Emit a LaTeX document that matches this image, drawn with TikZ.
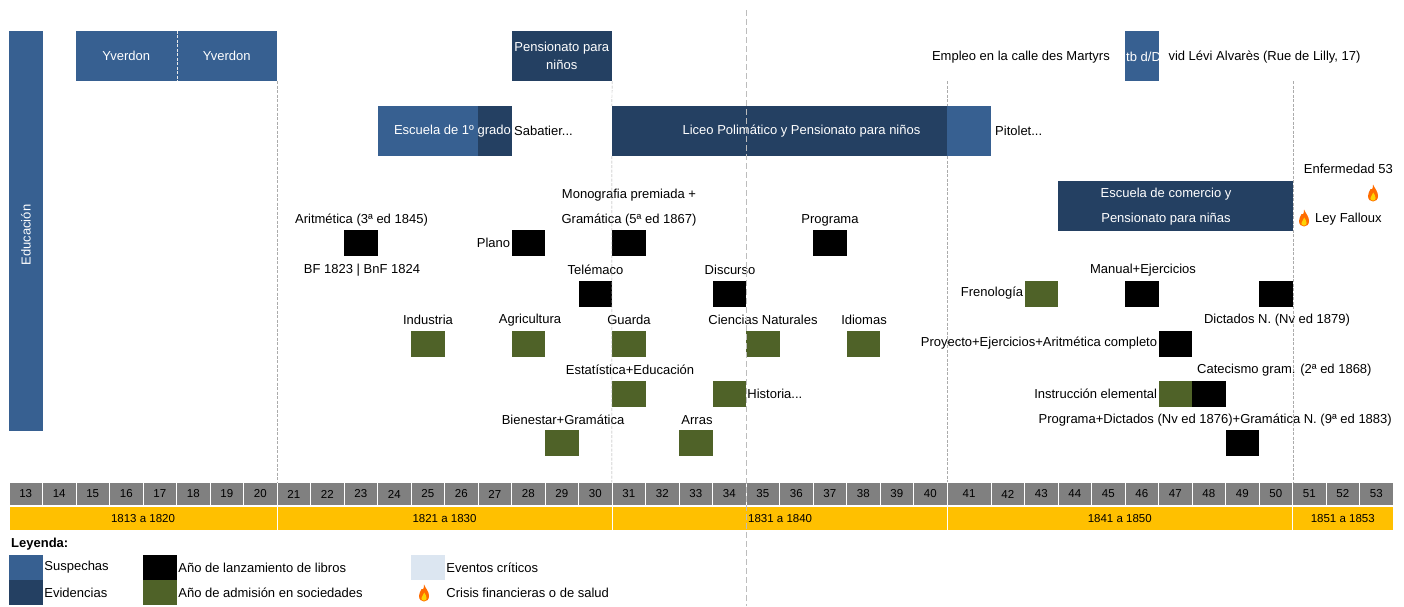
\documentclass[tikz,border=0pt]{standalone}
\usepackage{fontspec}
\setmainfont{Liberation Sans}
\definecolor{colSus}{HTML}{376091}
\definecolor{colEvi}{HTML}{244062}
\definecolor{colSoc}{HTML}{4F6228}
\definecolor{colAnio}{HTML}{808080}
\definecolor{colDec}{HTML}{FFC000}
\definecolor{colCri}{HTML}{DCE6F1}
\definecolor{colGuia}{HTML}{ABABAB}

\begin{document}
\begin{tikzpicture}[x=1pt, y=-1pt, font=\fontsize{13}{15.6}\selectfont,
bar/.style={minimum height=50pt, inner sep=0pt, text=white},
sosp/.style={bar, fill=colSus},
evid/.style={bar, fill=colEvi},
libro/.style={fill=black, minimum width=33.5pt, minimum height=26pt, inner sep=0pt},
socied/.style={libro, fill=colSoc},
txt/.style={inner sep=1pt},
anio/.style={fill=colAnio, draw=white, minimum width=33.5pt, minimum height=23pt, inner sep=0pt, font=\fontsize{11.5}{13}\selectfont},
decada/.style={fill=colDec, draw=white, minimum height=23.5pt, inner sep=0pt, font=\fontsize{11.5}{13}\selectfont},
muestra/.style={minimum width=34pt, minimum height=25pt, inner sep=0pt},
guialinea/.style={colGuia, dash pattern=on 3pt off 1.5pt},
flama/.pic={
\fill[orange!85!red] (0,-8.5) .. controls (2,-4) and (5,-1.5) .. (5,3) .. controls (5,6.5) and (2.8,8.5) .. (0,8.5) .. controls (-2.8,8.5) and (-5,6.5) .. (-5,3) .. controls (-5,0) and (-3.5,-1.5) .. (-2.5,-4) .. controls (-1.5,-2) and (0,-4) .. (0,-8.5) -- cycle;
\fill[yellow!70!orange] (0.3,-0.5) .. controls (1.5,1.5) and (2.6,3.5) .. (2.6,5.2) .. controls (2.6,7) and (1.3,7.6) .. (0,7.6) .. controls (-1.3,7.6) and (-2.6,7) .. (-2.6,5.2) .. controls (-2.6,3.5) and (-0.8,2.5) .. (0.3,-0.5) -- cycle;
}]
\fill[white] (0,0) rectangle (1404,606);
\useasboundingbox (0,0) rectangle (1404,606);

\node[sosp, minimum width=33.5pt, minimum height=400pt] (edu) at (25.75,231) {};
\node[rotate=90, text=white, txt] (eduT) at (26,235) {Educación};

\node[sosp, minimum width=100.5pt] (yv1) at (126.25,56) {Yverdon};
\node[sosp, minimum width=100.5pt] (yv2) at (226.75,56) {Yverdon};
\node[evid, minimum width=100.5pt, align=center] (pens) at (561.75,56) {Pensionato para\\[3pt]niños};
\node[txt, anchor=east] (empleo) at (1111,57) {Empleo en la calle des Martyrs};
\node[sosp, minimum width=33.5pt] (levi) at (1141.75,56) {};
\node[inner sep=0pt, anchor=west, text=white] (leviA) at (1126,57) {tb d/Da};
\node[inner sep=0pt, anchor=west] (leviB) at (leviA.east) {vid Lévi Alvarès (Rue de Lilly, 17)};

\node[sosp, minimum width=100.5pt] (esc1a) at (427.75,131) {};
\node[evid, minimum width=34pt] (esc1b) at (495,131) {};
\node[txt, anchor=east, text=white] (esc1T) at (512,131) {Escuela de 1º grado};
\node[txt, anchor=west] (sabat) at (513,131) {Sabatier...};
\node[evid, minimum width=335pt] (lic) at (779.5,131) {};
\node[sosp, minimum width=44pt] (licb) at (969,131) {};
\node[txt, text=white] (licT) at (801.5,131) {Liceo Polimático y Pensionato para niños};
\node[txt, anchor=west] (pitol) at (994,131) {Pitolet...};

\node[evid, minimum width=234.5pt, align=center] (comer) at (1175.25,206) {};
\node[txt, text=white, align=center] (comerT) at (1166,206.5) {Escuela de comercio y\\[9pt]Pensionato para niñas};
\node[txt, anchor=east] (enferm) at (1394,169) {Enfermedad 53};
\pic at (1373,193) {flama};
\pic at (1304,218) {flama};
\node[txt, anchor=west] (falloux) at (1314,219) {Ley Falloux};

\node[libro] (aritm) at (360.75,243) {};
\node[libro] (plano) at (528.25,243) {};
\node[libro] (grama) at (628.75,243) {};
\node[libro] (progr) at (829.75,243) {};
\node[libro] (telem) at (595.25,293.5) {};
\node[libro] (discu) at (729.25,293.5) {};
\node[socied] (freno) at (1041.25,293.5) {};
\node[libro] (manual) at (1141.75,293.5) {};
\node[libro] (dictad) at (1275.75,293.5) {};
\node[socied] (indus) at (427.75,343.5) {};
\node[socied] (agric) at (528.25,343.5) {};
\node[socied] (guarda) at (628.75,343.5) {};
\node[socied] (cienc) at (762.75,343.5) {};
\node[socied] (idiom) at (863.25,343.5) {};
\node[libro] (proyec) at (1175.25,343.5) {};
\node[socied] (estad) at (628.75,393.5) {};
\node[socied] (histo) at (729.25,393.5) {};
\node[socied] (instru) at (1175.25,393.5) {};
\node[libro] (catec) at (1208.75,393.5) {};
\node[socied] (bienes) at (561.75,443) {};
\node[socied] (arras) at (695.75,443) {};
\node[libro] (progdic) at (1242.25,443) {};

\node[txt] (aritmT) at (361.5,220) {Aritmética (3ª ed 1845)};
\node[txt] (bfT) at (362,270) {BF 1823 | BnF 1824};
\node[txt, anchor=east] (planoT) at (plano.west) {Plano};
\node[txt, align=center] (gramaT) at (629,207.5) {Monografia premiada +\\[9pt]Gramática (5ª ed 1867)};
\node[txt] (progrT) at (830,220) {Programa};
\node[txt] (telemT) at (595.5,270) {Telémaco};
\node[txt] (discuT) at (730,270) {Discurso};
\node[txt, anchor=east] (frenoT) at (freno.west) {Frenología};
\node[txt] (manualT) at (1143,270) {Manual+Ejercicios};
\node[txt] (dictadT) at (1277,320) {Dictados N. (Nv ed 1879)};
\node[txt] (indusT) at (428,320) {Industria};
\node[txt] (agricT) at (530,320) {Agricultura};
\node[txt] (guardaT) at (629,320) {Guarda};
\node[txt] (ciencT) at (763,320) {Ciencias Naturales};
\node[txt] (idiomT) at (864,320) {Idiomas};
\node[txt, anchor=east] (proyecT) at (proyec.west) {Proyecto+Ejercicios+Aritmética completo};
\node[txt] (estadT) at (630,370) {Estatística+Educación};
\node[txt, anchor=west] (histoT) at (histo.east) {Historia...};
\node[txt, anchor=east] (instruT) at (instru.west) {Instrucción elemental};
\node[txt, anchor=west] (catecT) at (1196,370) {Catecismo gram. (2ª ed 1868)};
\node[txt] (bienesT) at (563,420) {Bienestar+Gramática};
\node[txt] (arrasT) at (697,420) {Arras};
\node[txt, anchor=east] (progdicT) at (1393,420) {Programa+Dictados (Nv ed 1876)+Gramática N. (9ª ed 1883)};

\foreach \a in {13,...,40}
  \node[anio] (a\a) at ({25.75+(\a-13)*33.5},494) {\a};
\node[anio, minimum width=44pt] (a41) at (969,494) {41};
\foreach \a in {42,...,53}
  \node[anio] (a\a) at ({1007.75+(\a-42)*33.5},494) {\a};

\node[decada, minimum width=268pt] (d13) at (143,518.25) {1813 a 1820};
\node[decada, minimum width=335pt] (d21) at (444.5,518.25) {1821 a 1830};
\node[decada, minimum width=335pt] (d31) at (779.5,518.25) {};
\node[inner sep=0pt, anchor=west, font=\fontsize{11.5}{13}\selectfont] (d31T) at (748,518.25) {1831 a 1840};
\node[decada, minimum width=345.5pt] (d41) at (1119.75,518.25) {1841 a 1850};
\node[decada, minimum width=100.5pt] (d51) at (1342.75,518.25) {1851 a 1853};

\draw[guialinea, white!75!colGuia] (yv1.north east) -- (yv1.south east);
\draw[guialinea] (yv2.south east) -- (yv2.south east |- a21.north);
\draw[guialinea] (pens.south east) -- (lic.north west) (lic.south west) -- (lic.south west |- a31.north);
\draw[guialinea] (lic.north east |- pens.south) -- (lic.north east) (lic.south east) -- (lic.south east |- a41.north);
\draw[guialinea] (comer.north east |- pens.south) -- (comer.north east |- a51.north);
\draw[colGuia!80!white, dash pattern=on 6pt off 3pt] (746,10) -- (746,606);

\node[txt, anchor=west, font=\fontsize{13}{15.6}\selectfont\bfseries] (leyenda) at (10,544) {Leyenda:};
\node[muestra, fill=colSus] (mSus) at (26,567.5) {};
\node[muestra, fill=colEvi] (mEvi) at (26,592.5) {};
\node[muestra, fill=black] (mLib) at (160,567.5) {};
\node[muestra, fill=colSoc] (mSoc) at (160,592.5) {};
\node[muestra, fill=colCri] (mCri) at (428,567.5) {};
\pic at (424,593) {flama};
\node[txt, anchor=west] (tSus) at (mSus.east) {Suspechas};
\node[txt, anchor=west] (tEvi) at (mEvi.east) {Evidencias};
\node[txt, anchor=west] (tLib) at (mLib.east) {Año de lanzamiento de libros};
\node[txt, anchor=west] (tSoc) at (mSoc.east) {Año de admisión en sociedades};
\node[txt, anchor=west] (tCri) at (mCri.east) {Eventos críticos};
\node[txt, anchor=west] (tFin) at (mCri.east |- mSoc.east) {Crisis financieras o de salud};
\end{tikzpicture}
\end{document}
